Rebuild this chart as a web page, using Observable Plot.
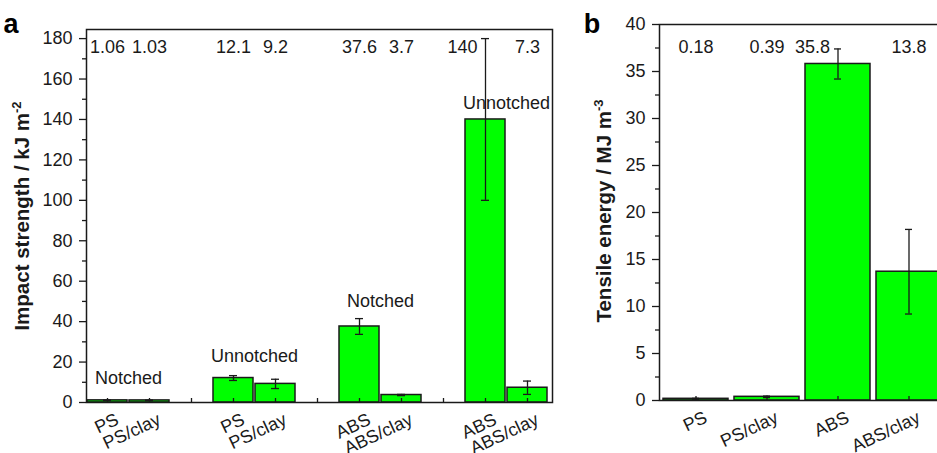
<!DOCTYPE html>
<html><head><meta charset="utf-8">
<script src="https://cdn.jsdelivr.net/npm/d3@7"></script>
<script src="https://cdn.jsdelivr.net/npm/@observablehq/plot@0.6"></script>
<style>
html,body{margin:0;padding:0;background:#fff;overflow:hidden;}
#wrap{position:relative;width:937px;height:453px;overflow:hidden;}
#pa{position:absolute;left:0;top:0;width:590px;height:453px;}
#pb{position:absolute;left:590px;top:0;width:360px;height:453px;}
#wrap svg{max-width:none !important;display:block;}
</style></head><body><div id="wrap"><div id="pa"></div><div id="pb"></div></div>
<script>
// ---------- Panel a: impact strength ----------
const aSlots = ["PS-N","PS/clay-N","gap1","PS-U","PS/clay-U","gap2","ABS-N","ABS/clay-N","gap3","ABS-U","ABS/clay-U"];
const aKeys = ["PS-N","PS/clay-N","PS-U","PS/clay-U","ABS-N","ABS/clay-N","ABS-U","ABS/clay-U"];
const aNames = ["PS","PS/clay","PS","PS/clay","ABS","ABS/clay","ABS","ABS/clay"];
const aValues = [1.06, 1.03, 12.1, 9.2, 37.6, 3.7, 140, 7.3];
const aErrors = [0.15, 0.15, 1.2, 2.3, 3.9, 0.3, 40, 3.3];
const aValueLabels = ["1.06","1.03","12.1","9.2","37.6","3.7","140","7.3"];
const aGroupNames = ["Notched","Unnotched","Notched","Unnotched"];
const aGroupFirst = ["PS-N","PS-U","ABS-N","ABS-U"];
const aGroupLabelY = [12, 23, 50, 148];
const aYTicks = [0,20,40,60,80,100,120,140,160,180];
const aYMinor = [10,30,50,70,90,110,130,150,170];
const aYMax = 184.5;

// ---------- Panel b: tensile energy ----------
const bKeys = ["PS","PS/clay","ABS","ABS/clay"];
const bValues = [0.18, 0.39, 35.8, 13.7];
const bErrors = [0.05, 0.08, 1.6, 4.5];
const bValueLabels = ["0.18","0.39","35.8","13.8"];
const bYTicks = [0,5,10,15,20,25,30,35,40];
const bYMinor = [2.5,7.5,12.5,17.5,22.5,27.5,32.5,37.5];

const FONT = "'Liberation Sans', Arial, sans-serif";
const INK = "#1a1a1a";
const GREEN = "#00ff00";

const aData = aKeys.map((k,i)=>({key:k, name:aNames[i], value:aValues[i], err:aErrors[i], label:aValueLabels[i]}));
const aGroups = aGroupNames.map((g,i)=>({key:aGroupFirst[i], name:g, y:aGroupLabelY[i]}));
const bData = bKeys.map((k,i)=>({key:k, value:bValues[i], err:bErrors[i], label:bValueLabels[i]}));

function panel({data, slots, range, paddingInner, paddingOuter, yDomain, yTicks, yMinor, width, height, margins, capInset, labelDy, groups, groupDx}) {
  const collides = d => d.value + d.err > yDomain[1] * 0.9;
  const marks = [
    Plot.barY(data, {x:"key", y:"value", fill:GREEN, stroke:INK, strokeWidth:1.5}),
    Plot.ruleX(data, {x:"key", y1:d=>d.value-d.err, y2:d=>d.value+d.err, stroke:INK, strokeWidth:1.3}),
    Plot.tickY(data, {x:"key", y:d=>d.value+d.err, insetLeft:capInset, insetRight:capInset, stroke:INK, strokeWidth:1.3}),
    Plot.tickY(data, {x:"key", y:d=>d.value-d.err, insetLeft:capInset, insetRight:capInset, stroke:INK, strokeWidth:1.3}),
    Plot.ruleX(slots, {x:d=>d, y1:()=>0, y2:()=>0, insetTop:-4, stroke:INK, strokeWidth:1.3}),
    Plot.axisY({ticks:yTicks, tickSize:7, tickPadding:7, stroke:INK, strokeWidth:1.3, fill:INK, label:null, fontSize:18}),
    Plot.axisY({ticks:yMinor, tickSize:4, tickFormat:()=>"", stroke:INK, strokeWidth:1.3, label:null}),
    Plot.frame({stroke:INK, strokeWidth:1.5}),
    Plot.text(data.filter(d=>!collides(d)), {x:"key", frameAnchor:"top", dy:labelDy, text:"label", fontSize:18, fill:INK}),
    Plot.text(data.filter(collides), {x:"key", frameAnchor:"top", dy:labelDy, dx:-8, textAnchor:"end", text:"label", fontSize:18, fill:INK}),
    Plot.text(data, {x:"key", y:()=>0, text:d=>d.name ?? d.key, rotate:-25, textAnchor:"end", lineAnchor:"middle", dx:10, dy:16, fontSize:18, fill:INK})
  ];
  if (groups) marks.push(Plot.text(groups, {x:"key", y:"y", text:"name", dx:groupDx, fontSize:18, fill:INK}));
  return Plot.plot({
    width, height, ...margins,
    style:{fontFamily:FONT, fontSize:"18px", background:"transparent", overflow:"visible", maxWidth:"none"},
    x:{type:"band", domain:slots, range, paddingInner, paddingOuter, axis:null},
    y:{domain:yDomain, axis:null},
    marks
  });
}

const svgA = panel({
  data:aData, slots:aSlots, range:[86,548], paddingInner:0.05, paddingOuter:0.025,
  yDomain:[0,aYMax], yTicks:aYTicks, yMinor:aYMinor, width:590, height:453,
  margins:{marginLeft:86, marginRight:38, marginTop:29, marginBottom:51},
  capInset:16, labelDy:11, groups:aGroups, groupDx:21
});
const svgB = panel({
  data:bData, slots:bKeys, range:[69,356], paddingInner:0.08, paddingOuter:0.04,
  yDomain:[0,40], yTicks:bYTicks, yMinor:bYMinor, width:360, height:453,
  margins:{marginLeft:69, marginRight:4, marginTop:24, marginBottom:53},
  capInset:29, labelDy:16
});
document.getElementById("pa").appendChild(svgA);
document.getElementById("pb").appendChild(svgB);

function addTitle(svg, x, y, main, sup) {
  const t = d3.select(svg).append("text")
    .attr("transform", `translate(${x},${y}) rotate(-90)`)
    .attr("text-anchor","middle").attr("dy","0.35em")
    .attr("font-family", FONT).attr("font-weight","bold").attr("font-size", 20.5).attr("fill", INK);
  t.append("tspan").text(main);
  t.append("tspan").attr("font-size", 13).attr("dy", "-0.6em").text(sup);
}
function addPanelLabel(svg, x, y, s) {
  d3.select(svg).append("text").attr("x", x).attr("y", y)
    .attr("font-family", FONT).attr("font-weight","bold").attr("font-size", 27).attr("fill", "#000").text(s);
}
addTitle(svgA, 22, 216, "Impact strength / kJ m", "-2");
addTitle(svgB, 14, 211, "Tensile energy / MJ m", "-3");
addPanelLabel(svgA, 11, 33, "a");
addPanelLabel(svgB, 2, 33, "b");
</script></body></html>
